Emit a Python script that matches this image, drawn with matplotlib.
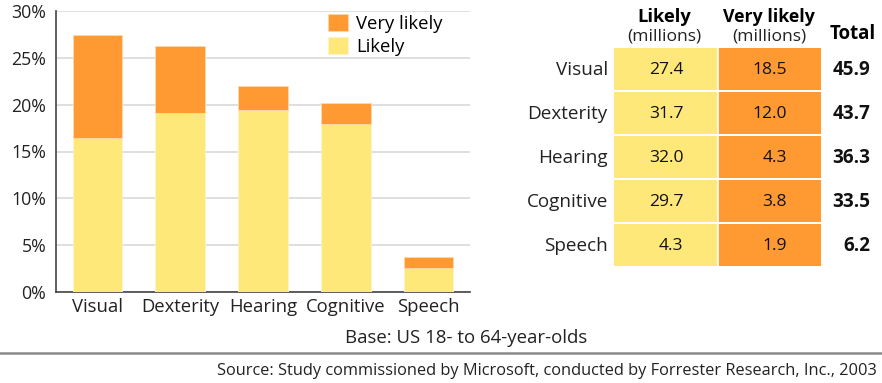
import matplotlib
matplotlib.use("Agg")
import matplotlib.pyplot as plt
import numpy as np

categories = ["Visual", "Dexterity", "Hearing", "Cognitive", "Speech"]
likely_pct = [16.4, 19.1, 19.4, 17.9, 2.6]
very_likely_pct = [11.0, 7.2, 2.6, 2.3, 1.1]
likely_mil = [27.4, 31.7, 32.0, 29.7, 4.3]
very_likely_mil = [18.5, 12.0, 4.3, 3.8, 1.9]
total_mil = [45.9, 43.7, 36.3, 33.5, 6.2]
yticks = [0, 5, 10, 15, 20, 25, 30]

ORANGE = "#FF9A33"
YELLOW = "#FFE87A"
FONT = "Open Sans"
plt.rcParams["font.family"] = [FONT, "DejaVu Sans"]

W, H = 882, 383
fig = plt.figure(figsize=(W / 100, H / 100), dpi=100)

def px_axes(x0, y0, x1, y1):
    return fig.add_axes([x0 / W, 1 - y1 / H, (x1 - x0) / W, (y1 - y0) / H])

# ---- bar chart ----
ax = px_axes(56, 11, 470, 292)
x = np.arange(len(categories))
ax.bar(x, likely_pct, width=0.6, color=YELLOW, edgecolor="#FFF3C8", linewidth=0.6, zorder=3, label="Likely")
ax.bar(x, very_likely_pct, bottom=likely_pct, width=0.6, color=ORANGE, edgecolor="#FFD9A8",
       linewidth=0.6, zorder=3, label="Very likely")
ax.set_xlim(-0.5, 4.5)
ax.set_ylim(0, 30)
ax.set_yticks(yticks)
ax.set_yticklabels([f"{v}%" for v in yticks], fontsize=12.8, color="#222222")
ax.set_xticks(x)
ax.set_xticklabels(categories, fontsize=13.3, color="#222222")
ax.tick_params(axis="both", length=0)
ax.tick_params(axis="y", pad=7)
ax.tick_params(axis="x", pad=4)
ax.grid(axis="y", color="#D9D9D9", linewidth=1.2, zorder=0)
for s in ["top", "right"]:
    ax.spines[s].set_visible(False)
for s in ["left", "bottom"]:
    ax.spines[s].set_color("#444444")
    ax.spines[s].set_linewidth(1.2)
handles, labels = ax.get_legend_handles_labels()
leg = ax.legend(handles[::-1], labels[::-1], loc="upper left", bbox_to_anchor=(0.64, 1.015),
                frameon=False, fontsize=13.3, handlelength=1.05, handleheight=1.05,
                handletextpad=0.45, labelspacing=0.2, borderaxespad=0)

# ---- table ----
tx = px_axes(614, 48, 821, 268)
rows = np.arange(len(categories))
tx.barh(rows, [1] * len(rows), left=0, height=0.965, align="edge", color=YELLOW)
tx.barh(rows, [1] * len(rows), left=1, height=0.965, align="edge", color=ORANGE)
tx.axvline(1, color="white", linewidth=1.2)
tx.set_xlim(0, 2)
tx.set_ylim(5, 0)
tx.axis("off")
fs = 12.6
for i, cat in enumerate(categories):
    yc = i + 0.5
    tx.text(-0.06, yc, cat, ha="right", va="center", fontsize=13.6, color="#222222", clip_on=False)
    tx.text(0.67, yc, f"{likely_mil[i]:.1f}", ha="right", va="center", fontsize=fs, color="#111111")
    tx.text(1.67, yc, f"{very_likely_mil[i]:.1f}", ha="right", va="center", fontsize=fs, color="#111111")
    tx.text(2.48, yc, f"{total_mil[i]:.1f}", ha="right", va="center", fontsize=13.6,
            fontweight="bold", color="#111111", clip_on=False)
tx.text(0.49, -0.70, "Likely", ha="center", va="center", fontsize=13.2, fontweight="bold", clip_on=False)
tx.text(0.49, -0.27, "(millions)", ha="center", va="center", fontsize=fs, color="#222222", clip_on=False)
tx.text(1.50, -0.70, "Very likely", ha="center", va="center", fontsize=12.8, fontweight="bold", clip_on=False)
tx.text(1.50, -0.27, "(millions)", ha="center", va="center", fontsize=fs, color="#222222", clip_on=False)
tx.text(2.31, -0.32, "Total", ha="center", va="center", fontsize=13.4, fontweight="bold", clip_on=False)

# ---- footer ----
fig.text(466 / W, 1 - 338 / H, "Base: US 18- to 64-year-olds", ha="center", va="center",
         fontsize=13.4, color="#222222")
fig.add_artist(plt.Line2D([0, 1], [1 - 353 / H, 1 - 353 / H], transform=fig.transFigure,
                          color="#8A8A8A", linewidth=1.8))
fig.text(877 / W, 1 - 371 / H,
         "Source: Study commissioned by Microsoft, conducted by Forrester Research, Inc., 2003",
         ha="right", va="center", fontsize=11.8, color="#222222")

fig.savefig("out.png", dpi=100)
